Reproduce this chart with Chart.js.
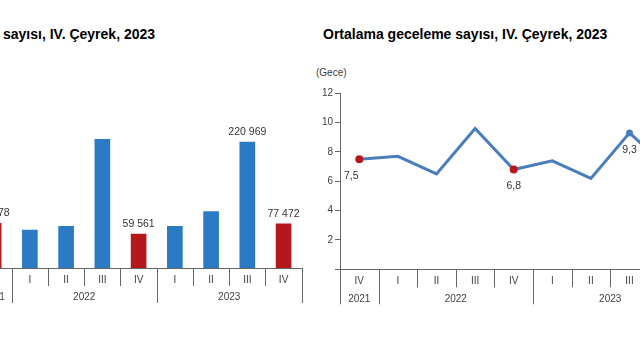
<!DOCTYPE html>
<html lang="tr">
<head>
<meta charset="utf-8">
<title>Konaklama istatistikleri, IV. Çeyrek 2023</title>
<script src="https://cdn.jsdelivr.net/npm/chart.js@4.4.1/dist/chart.umd.min.js"></script>
<style>
    html, body { margin: 0; padding: 0; background: #fff; }
    body { width: 640px; height: 360px; position: relative; overflow: hidden; font-family: Arial, "Liberation Sans", sans-serif; }
    canvas { position: absolute; top: 0; }
    #barChart { left: -40px; }
    #lineChart { left: 290px; }
    .title { position: absolute; top: 26px; font-weight: bold; font-size: 14px; color: #000; white-space: nowrap; }
    .unit { position: absolute; left: 316px; top: 67px; font-size: 10px; color: #404040; }
</style>
</head>
<body>
<div class="title" style="left:3px;">sayısı, IV. Çeyrek, 2023</div>
<div class="title" style="left:323px;">Ortalama geceleme sayısı, IV. Çeyrek, 2023</div>
<div class="unit">(Gece)</div>
<canvas id="barChart" width="350" height="360"></canvas>
<canvas id="lineChart" width="420" height="360"></canvas>
<script>
// ---- veriler ----
const quarters = ['IV', 'I', 'II', 'III', 'IV', 'I', 'II', 'III', 'IV'];
const quarterYears = ['2021', '2022', '2022', '2022', '2022', '2023', '2023', '2023', '2023'];
const barValues = [78378, 66640, 73100, 225700, 59561, 73100, 98700, 220969, 77472];
const barLabelIdx = [0, 4, 7, 8];
const nightValues = [7.5, 7.7, 6.5, 9.6, 6.8, 7.4, 6.2, 9.3, 6.9];
const nightLabelIdx = [0, 4, 7, 8];
const nightTicks = [2, 4, 6, 8, 10, 12];

const BLUE = '#2b7bc4';
const RED = '#b3181d';
const LINE = '#4a7ebb';
const AXIS = '#666';
const TEXT = '#404040';
const FONT = 'Arial, "Liberation Sans", sans-serif';

document.addEventListener('DOMContentLoaded', () => {

    /* ---------- eksen: çeyrek ayırıcıları + yıllar ---------- */
    const yearAxis = {
        id: 'yearAxis',
        afterDraw(chart) {
            const x = chart.scales.x;
            const ctx = chart.ctx;
            const bottom = chart.chartArea.bottom;
            const half = (x.getPixelForValue(1) - x.getPixelForValue(0)) / 2;
            ctx.save();
            ctx.strokeStyle = AXIS;
            ctx.lineWidth = 1;
            for (let i = 0; i <= quarters.length; i++) {
                const px = i < quarters.length ? x.getPixelForValue(i) - half : x.getPixelForValue(i - 1) + half;
                const isYear = i === 0 || i === quarters.length || quarterYears[i] !== quarterYears[i - 1];
                const len = isYear ? 35 : 18;
                ctx.beginPath();
                ctx.moveTo(Math.round(px) + 0.5, bottom);
                ctx.lineTo(Math.round(px) + 0.5, bottom + len);
                ctx.stroke();
            }
            // yıl etiketleri grubun ortasına
            ctx.fillStyle = TEXT;
            ctx.font = '10px ' + FONT;
            ctx.textAlign = 'center';
            ctx.textBaseline = 'middle';
            let start = 0;
            for (let i = 1; i <= quarters.length; i++) {
                if (i === quarters.length || quarterYears[i] !== quarterYears[start]) {
                    const cx = (x.getPixelForValue(start) + x.getPixelForValue(i - 1)) / 2;
                    ctx.fillText(quarterYears[start], cx, bottom + 29.5);
                    start = i;
                }
            }
            ctx.restore();
        }
    };

    const xScale = {
        type: 'category',
        offset: true,
        grid: { display: false, drawTicks: false },
        border: { display: true, color: AXIS, width: 1 },
        ticks: { color: TEXT, font: { size: 10, family: FONT }, padding: 6, autoSkip: false, maxRotation: 0 },
        afterFit: (scale) => { scale.height = 34; }
    };

    /* ---------- 1. SÜTUN GRAFİK ---------- */
    const barLabels = {
        id: 'barLabels',
        afterDatasetsDraw(chart) {
            const ctx = chart.ctx;
            const meta = chart.getDatasetMeta(0);
            ctx.save();
            ctx.fillStyle = '#333';
            ctx.font = '10.5px ' + FONT;
            ctx.textAlign = 'center';
            ctx.textBaseline = 'middle';
            barLabelIdx.forEach(i => {
                const el = meta.data[i];
                const txt = barValues[i].toString().replace(/\B(?=(\d{3})+(?!\d))/g, ' ');
                ctx.fillText(txt, el.x, el.y - 10);
            });
            ctx.restore();
        }
    };

    new Chart(document.getElementById('barChart'), {
        type: 'bar',
        data: {
            labels: quarters,
            datasets: [{
                data: barValues,
                backgroundColor: quarters.map(q => q === 'IV' ? RED : BLUE),
                borderWidth: 0,
                barThickness: 15
            }]
        },
        options: {
            responsive: false,
            animation: false,
            layout: { padding: { left: 15.5, right: 8.3, top: 125.4, bottom: 58 } },
            plugins: { legend: { display: false }, tooltip: { enabled: false } },
            scales: {
                x: xScale,
                y: { display: false, min: 0, max: 250000 }
            }
        },
        plugins: [barLabels, yearAxis]
    });

    /* ---------- 2. ÇİZGİ GRAFİK ---------- */
    const lineLabels = {
        id: 'lineLabels',
        afterDatasetsDraw(chart) {
            const ctx = chart.ctx;
            const meta = chart.getDatasetMeta(0);
            ctx.save();
            ctx.fillStyle = '#333';
            ctx.font = '10.5px ' + FONT;
            ctx.textAlign = 'center';
            ctx.textBaseline = 'middle';
            nightLabelIdx.forEach(i => {
                const el = meta.data[i];
                const dx = i === 0 ? -8 : 0; // ilk etiket eksene yakın, sola kaymış
                ctx.fillText(nightValues[i].toFixed(1).replace('.', ','), el.x + dx, el.y + 17);
            });
            ctx.restore();
        }
    };

    new Chart(document.getElementById('lineChart'), {
        type: 'line',
        data: {
            labels: quarters,
            datasets: [{
                data: nightValues,
                borderColor: LINE,
                borderWidth: 3,
                tension: 0,
                pointRadius: quarters.map((q, i) => q === 'IV' ? 4 : (i === 7 ? 3.5 : 0)),
                pointBackgroundColor: quarters.map(q => q === 'IV' ? RED : LINE),
                pointBorderWidth: 0
            }]
        },
        options: {
            responsive: false,
            animation: false,
            layout: { padding: { left: 0, right: 22.6, top: 93.3, bottom: 56.7 } },
            plugins: { legend: { display: false }, tooltip: { enabled: false } },
            scales: {
                x: xScale,
                y: {
                    min: 0,
                    max: 12,
                    afterBuildTicks: (scale) => { scale.ticks = [0].concat(nightTicks).map(v => ({ value: v })); },
                    grid: { drawOnChartArea: false, tickLength: 5, color: AXIS },
                    border: { display: true, color: AXIS, width: 1 },
                    ticks: {
                        color: TEXT,
                        font: { size: 10, family: FONT },
                        padding: 2,
                        callback: (v) => v === 0 ? '' : v
                    },
                    afterFit: (scale) => { scale.width = 50; }
                }
            }
        },
        plugins: [lineLabels, yearAxis]
    });
});
</script>
</body>
</html>
